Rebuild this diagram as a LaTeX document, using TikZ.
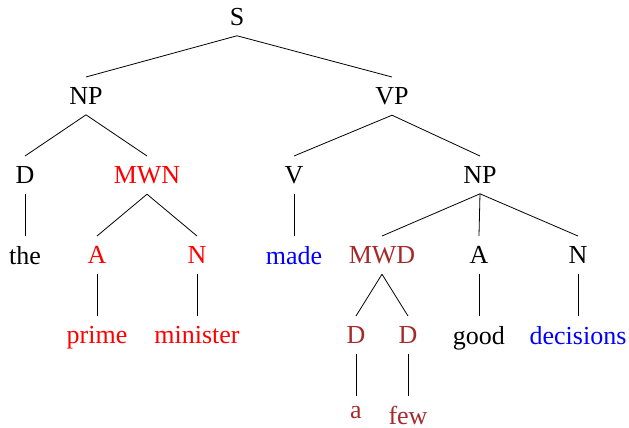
\documentclass[tikz,border=0pt]{standalone}
\usepackage{fontspec}
\setmainfont{Liberation Serif}
\usepackage[x11names]{xcolor}
\usepackage{tikz}
\definecolor{mwdbrown}{RGB}{165,42,42}

\begin{document}
\begin{tikzpicture}[x=0.5pt,y=-0.5pt,
  cat/.style={anchor=north,inner sep=5pt,font=\fontsize{13}{15}\selectfont},
  mwn/.style={cat,text=red},
  mwd/.style={cat,text=mwdbrown},
  verbal/.style={cat,text=blue}]
\useasboundingbox (0,0) rectangle (629,428);
\node[cat] (s) at (237,-2.5) {S};
\node[cat] (np) at (86,77) {NP};
\node[cat] (vp) at (392,77) {VP};
\node[cat] (d) at (25,156) {D};
\node[mwn] (mwn) at (147,156) {MWN};
\node[cat] (v) at (294,156) {V};
\node[cat] (npb) at (480,156) {NP};
\node[cat] (the) at (25,236) {the};
\node[mwn] (a) at (97,236) {A};
\node[mwn] (n) at (197,236) {N};
\node[verbal] (made) at (294,236) {made};
\node[mwd] (mwd) at (382,236) {MWD};
\node[cat] (ab) at (479,236) {A};
\node[cat] (nb) at (578,236) {N};
\node[mwn] (prime) at (97,316) {prime};
\node[mwn] (minister) at (197,316) {minister};
\node[mwd] (da) at (356,316) {D};
\node[mwd] (db) at (408,316) {D};
\node[cat] (good) at (479,316) {good};
\node[verbal] (decisions) at (578,316) {decisions};
\node[mwd] (aa) at (356,396) {a};
\node[mwd] (few) at (408,396) {few};
\draw (s.south) -- (np.north);
\draw (s.south) -- (vp.north);
\draw (np.south) -- (d.north);
\draw (np.south) -- (mwn.north);
\draw (vp.south) -- (v.north);
\draw (vp.south) -- (npb.north);
\draw (d.south) -- (the.north);
\draw (mwn.south) -- (a.north);
\draw (mwn.south) -- (n.north);
\draw (v.south) -- (made.north);
\draw (npb.south) -- (mwd.north);
\draw (npb.south) -- (ab.north);
\draw (npb.south) -- (nb.north);
\draw (a.south) -- (prime.north);
\draw (n.south) -- (minister.north);
\draw (mwd.south) -- (da.north);
\draw (mwd.south) -- (db.north);
\draw (ab.south) -- (good.north);
\draw (nb.south) -- (decisions.north);
\draw (da.south) -- (aa.north);
\draw (db.south) -- (few.north);
\end{tikzpicture}
\end{document}
